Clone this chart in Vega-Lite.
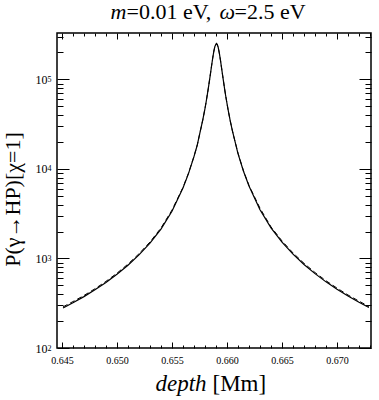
{
  "$schema": "https://vega.github.io/schema/vega-lite/v6.json",
  "autosize": {"type": "none"},
  "padding": {"left": 57, "top": 33, "right": 8, "bottom": 52},
  "width": 314,
  "height": 315,
  "background": "white",
  "config": {
    "font": "Liberation Serif",
    "view": {"stroke": "black", "strokeWidth": 1.5},
    "axis": {"domain": false, "grid": false, "tickColor": "black", "tickWidth": 1, "labelColor": "black", "titleColor": "black", "titleFontWeight": "normal", "labelFont": "Liberation Serif", "titleFont": "Liberation Serif", "labelFlush": false, "labelOverlap": false}
  },
  "datasets": {
    "curves": [
      {"depth": 0.6451, "P": 280, "series": "a"},
      {"depth": 0.646, "P": 320, "series": "a"},
      {"depth": 0.647, "P": 375, "series": "a"},
      {"depth": 0.648, "P": 446, "series": "a"},
      {"depth": 0.649, "P": 539, "series": "a"},
      {"depth": 0.65, "P": 665, "series": "a"},
      {"depth": 0.651, "P": 840, "series": "a"},
      {"depth": 0.652, "P": 1095, "series": "a"},
      {"depth": 0.653, "P": 1484, "series": "a"},
      {"depth": 0.654, "P": 2127, "series": "a"},
      {"depth": 0.655, "P": 3370, "series": "a"},
      {"depth": 0.656, "P": 6130, "series": "a"},
      {"depth": 0.6565, "P": 8870, "series": "a"},
      {"depth": 0.657, "P": 13750, "series": "a"},
      {"depth": 0.6573, "P": 18520, "series": "a"},
      {"depth": 0.6575, "P": 24020, "series": "a"},
      {"depth": 0.6578, "P": 35240, "series": "a"},
      {"depth": 0.658, "P": 47280, "series": "a"},
      {"depth": 0.6581, "P": 55580, "series": "a"},
      {"depth": 0.6583, "P": 79000, "series": "a"},
      {"depth": 0.6585, "P": 116300, "series": "a"},
      {"depth": 0.6586, "P": 142000, "series": "a"},
      {"depth": 0.6587, "P": 172300, "series": "a"},
      {"depth": 0.6588, "P": 204800, "series": "a"},
      {"depth": 0.6589, "P": 233700, "series": "a"},
      {"depth": 0.65904, "P": 252000, "series": "a"},
      {"depth": 0.6591, "P": 248400, "series": "a"},
      {"depth": 0.6592, "P": 228600, "series": "a"},
      {"depth": 0.6593, "P": 198400, "series": "a"},
      {"depth": 0.6594, "P": 166000, "series": "a"},
      {"depth": 0.6595, "P": 136500, "series": "a"},
      {"depth": 0.6596, "P": 111800, "series": "a"},
      {"depth": 0.6598, "P": 76100, "series": "a"},
      {"depth": 0.6599, "P": 63660, "series": "a"},
      {"depth": 0.6601, "P": 45900, "series": "a"},
      {"depth": 0.6603, "P": 34290, "series": "a"},
      {"depth": 0.6605, "P": 26450, "series": "a"},
      {"depth": 0.6607, "P": 20960, "series": "a"},
      {"depth": 0.661, "P": 14820, "series": "a"},
      {"depth": 0.6615, "P": 9440, "series": "a"},
      {"depth": 0.662, "P": 6460, "series": "a"},
      {"depth": 0.663, "P": 3500, "series": "a"},
      {"depth": 0.664, "P": 2195, "series": "a"},
      {"depth": 0.665, "P": 1524, "series": "a"},
      {"depth": 0.666, "P": 1120, "series": "a"},
      {"depth": 0.667, "P": 857, "series": "a"},
      {"depth": 0.668, "P": 677, "series": "a"},
      {"depth": 0.669, "P": 548, "series": "a"},
      {"depth": 0.67, "P": 453, "series": "a"},
      {"depth": 0.671, "P": 380, "series": "a"},
      {"depth": 0.672, "P": 324, "series": "a"},
      {"depth": 0.6729, "P": 283, "series": "a"},
      {"depth": 0.6451, "P": 288, "series": "b"},
      {"depth": 0.646, "P": 330, "series": "b"},
      {"depth": 0.647, "P": 386, "series": "b"},
      {"depth": 0.648, "P": 459, "series": "b"},
      {"depth": 0.649, "P": 555, "series": "b"},
      {"depth": 0.65, "P": 685, "series": "b"},
      {"depth": 0.651, "P": 865, "series": "b"},
      {"depth": 0.652, "P": 1128, "series": "b"},
      {"depth": 0.653, "P": 1528, "series": "b"},
      {"depth": 0.654, "P": 2190, "series": "b"},
      {"depth": 0.655, "P": 3470, "series": "b"},
      {"depth": 0.656, "P": 6220, "series": "b"},
      {"depth": 0.6565, "P": 8960, "series": "b"},
      {"depth": 0.657, "P": 13810, "series": "b"},
      {"depth": 0.6573, "P": 18520, "series": "b"},
      {"depth": 0.6575, "P": 24020, "series": "b"},
      {"depth": 0.6578, "P": 35240, "series": "b"},
      {"depth": 0.658, "P": 47280, "series": "b"},
      {"depth": 0.6581, "P": 55580, "series": "b"},
      {"depth": 0.6583, "P": 79000, "series": "b"},
      {"depth": 0.6585, "P": 116300, "series": "b"},
      {"depth": 0.6586, "P": 142000, "series": "b"},
      {"depth": 0.6587, "P": 172300, "series": "b"},
      {"depth": 0.6588, "P": 204800, "series": "b"},
      {"depth": 0.6589, "P": 233700, "series": "b"},
      {"depth": 0.65904, "P": 252000, "series": "b"},
      {"depth": 0.6591, "P": 248400, "series": "b"},
      {"depth": 0.6592, "P": 228600, "series": "b"},
      {"depth": 0.6593, "P": 198400, "series": "b"},
      {"depth": 0.6594, "P": 166000, "series": "b"},
      {"depth": 0.6595, "P": 136500, "series": "b"},
      {"depth": 0.6596, "P": 111800, "series": "b"},
      {"depth": 0.6598, "P": 76100, "series": "b"},
      {"depth": 0.6599, "P": 63660, "series": "b"},
      {"depth": 0.6601, "P": 45900, "series": "b"},
      {"depth": 0.6603, "P": 34290, "series": "b"},
      {"depth": 0.6605, "P": 26450, "series": "b"},
      {"depth": 0.6607, "P": 20960, "series": "b"},
      {"depth": 0.661, "P": 15080, "series": "b"},
      {"depth": 0.6615, "P": 9510, "series": "b"},
      {"depth": 0.662, "P": 6550, "series": "b"},
      {"depth": 0.663, "P": 3645, "series": "b"},
      {"depth": 0.664, "P": 2255, "series": "b"},
      {"depth": 0.665, "P": 1571, "series": "b"},
      {"depth": 0.666, "P": 1154, "series": "b"},
      {"depth": 0.667, "P": 883, "series": "b"},
      {"depth": 0.668, "P": 697, "series": "b"},
      {"depth": 0.669, "P": 564, "series": "b"},
      {"depth": 0.67, "P": 467, "series": "b"},
      {"depth": 0.671, "P": 391, "series": "b"},
      {"depth": 0.672, "P": 334, "series": "b"},
      {"depth": 0.6729, "P": 291, "series": "b"}
    ]
  },
  "data": {"name": "curves"},
  "layer": [
    {
      "transform": [{"filter": "datum.series == 'a'"}],
      "mark": {"type": "line", "color": "black", "strokeWidth": 1.2, "clip": true},
      "encoding": {
        "x": {"field": "depth", "type": "quantitative", "scale": {"domain": [0.64455, 0.67309], "nice": false, "zero": false},
          "axis": {"orient": "bottom", "values": [0.645, 0.65, 0.655, 0.66, 0.665, 0.67], "format": ".3f", "tickSize": -6, "labelFontSize": 10, "labelPadding": 13,
            "title": "depth", "titleFontStyle": "italic", "titleFontSize": 23, "titleX": 98, "titleY": 42, "titleAlign": "left", "titleBaseline": "alphabetic", "titleAngle": 0}},
        "y": {"field": "P", "type": "quantitative", "scale": {"type": "log", "domain": [100, 330000], "nice": false},
          "axis": {"orient": "left", "values": [100, 1000, 10000, 100000], "labelExpr": "'10'", "tickSize": -12, "labelFontSize": 12, "labelPadding": 22, "labelBaseline": "middle",
            "title": "P(γ→HP)[χ=1]", "titleFontSize": 22, "titleX": -38, "titleY": 166, "titleAngle": -90, "titleAlign": "center", "titleBaseline": "alphabetic"}}
      }
    },
    {
      "transform": [{"filter": "datum.series == 'b'"}],
      "mark": {"type": "line", "color": "black", "strokeWidth": 1, "strokeDash": [5, 3], "clip": true},
      "encoding": {
        "x": {"field": "depth", "type": "quantitative", "scale": {"domain": [0.64455, 0.67309], "nice": false, "zero": false},
          "axis": {"orient": "bottom", "values": [0.646, 0.647, 0.648, 0.649, 0.651, 0.652, 0.653, 0.654, 0.656, 0.657, 0.658, 0.659, 0.661, 0.662, 0.663, 0.664, 0.666, 0.667, 0.668, 0.669, 0.671, 0.672, 0.673], "labels": false, "tickSize": -3,
            "title": "[Mm]", "titleFontSize": 23, "titleX": 155, "titleY": 42, "titleAlign": "left", "titleBaseline": "alphabetic", "titleAngle": 0}},
        "y": {"field": "P", "type": "quantitative", "scale": {"type": "log", "domain": [100, 330000], "nice": false},
          "axis": {"orient": "left", "values": [200, 300, 400, 500, 600, 700, 800, 900, 2000, 3000, 4000, 5000, 6000, 7000, 8000, 9000, 20000, 30000, 40000, 50000, 60000, 70000, 80000, 90000, 200000, 300000], "labels": false, "tickSize": -6, "title": null}}
      }
    },
    {
      "transform": [{"filter": "datum.series == 'a'"}],
      "mark": {"type": "line", "color": "black", "strokeOpacity": 0},
      "encoding": {
        "x": {"field": "depth", "type": "quantitative", "scale": {"domain": [0.64455, 0.67309], "nice": false, "zero": false},
          "axis": {"orient": "top", "values": [0.645, 0.65, 0.655, 0.66, 0.665, 0.67], "labels": false, "tickSize": -6,
            "title": "m", "titleFontStyle": "italic", "titleFontSize": 22, "titleX": 53, "titleY": -15, "titleAlign": "left", "titleBaseline": "alphabetic", "titleAngle": 0}},
        "y": {"field": "P", "type": "quantitative", "scale": {"type": "log", "domain": [100, 330000], "nice": false},
          "axis": {"orient": "right", "values": [100, 1000, 10000, 100000], "labels": false, "tickSize": -12, "title": null}}
      }
    },
    {
      "transform": [{"filter": "datum.series == 'a'"}],
      "mark": {"type": "line", "color": "black", "strokeOpacity": 0},
      "encoding": {
        "x": {"field": "depth", "type": "quantitative", "scale": {"domain": [0.64455, 0.67309], "nice": false, "zero": false},
          "axis": {"orient": "top", "values": [0.646, 0.647, 0.648, 0.649, 0.651, 0.652, 0.653, 0.654, 0.656, 0.657, 0.658, 0.659, 0.661, 0.662, 0.663, 0.664, 0.666, 0.667, 0.668, 0.669, 0.671, 0.672, 0.673], "labels": false, "tickSize": -3,
            "title": "=0.01 eV,", "titleFontSize": 22, "titleX": 69, "titleY": -15, "titleAlign": "left", "titleBaseline": "alphabetic", "titleAngle": 0}},
        "y": {"field": "P", "type": "quantitative", "scale": {"type": "log", "domain": [100, 330000], "nice": false},
          "axis": {"orient": "right", "values": [200, 300, 400, 500, 600, 700, 800, 900, 2000, 3000, 4000, 5000, 6000, 7000, 8000, 9000, 20000, 30000, 40000, 50000, 60000, 70000, 80000, 90000, 200000, 300000], "labels": false, "tickSize": -6, "title": null}}
      }
    },
    {
      "transform": [{"filter": "datum.series == 'a'"}],
      "mark": {"type": "line", "color": "black", "strokeOpacity": 0},
      "encoding": {
        "x": {"field": "depth", "type": "quantitative", "scale": {"domain": [0.64455, 0.67309], "nice": false, "zero": false},
          "axis": {"orient": "top", "values": [0.66], "labels": false, "ticks": false, "tickSize": 0,
            "title": "ω", "titleFontStyle": "italic", "titleFontSize": 22, "titleX": 162, "titleY": -15, "titleAlign": "left", "titleBaseline": "alphabetic", "titleAngle": 0}},
        "y": {"field": "P", "type": "quantitative", "scale": {"type": "log", "domain": [100, 330000], "nice": false},
          "axis": {"orient": "left", "values": [100, 1000, 10000, 100000], "labelExpr": "datum.value == 100 ? '2' : datum.value == 1000 ? '3' : datum.value == 10000 ? '4' : '5'", "ticks": false, "tickSize": 0, "labelPadding": 10, "labelAlign": "left", "labelBaseline": "middle", "labelDy": -4, "labelFontSize": 8, "title": null}}
      }
    },
    {
      "transform": [{"filter": "datum.series == 'a'"}],
      "mark": {"type": "line", "color": "black", "strokeOpacity": 0},
      "encoding": {
        "x": {"field": "depth", "type": "quantitative", "scale": {"domain": [0.64455, 0.67309], "nice": false, "zero": false},
          "axis": {"orient": "top", "values": [0.66], "labels": false, "ticks": false, "tickSize": 0,
            "title": "=2.5 eV", "titleFontSize": 22, "titleX": 177, "titleY": -15, "titleAlign": "left", "titleBaseline": "alphabetic", "titleAngle": 0}},
        "y": {"field": "P", "type": "quantitative", "scale": {"type": "log", "domain": [100, 330000], "nice": false}, "axis": null}
      }
    }
  ],
  "resolve": {"axis": {"x": "independent", "y": "independent"}}
}
